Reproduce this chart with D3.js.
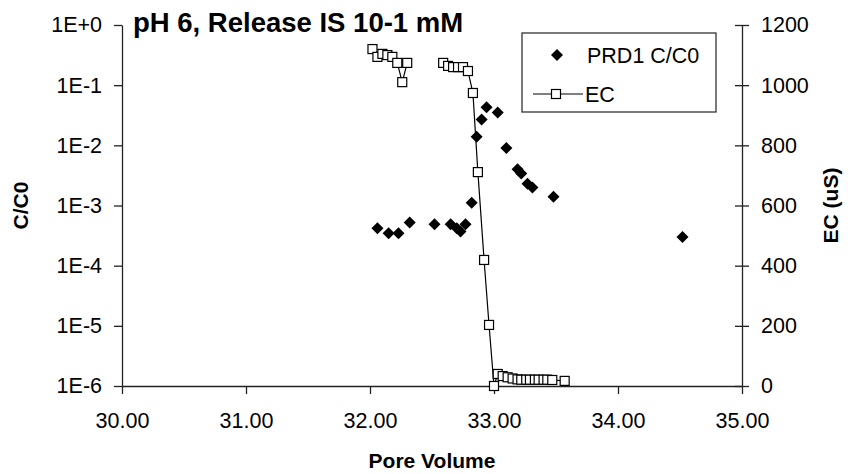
<!DOCTYPE html>
<html>
<head>
<meta charset="utf-8">
<script src="https://cdn.jsdelivr.net/npm/d3@7"></script>
<style>
  body { margin: 0; background: #fff; }
  text { font-family: "Liberation Sans", Arial, sans-serif; fill: #000; }
</style>
</head>
<body>
<svg id="chart" width="848" height="474"></svg>
<script>
// Axis ticks and labels
const poreVolumeTicks = [30, 31, 32, 33, 34, 35];
const poreVolumeTickLabels = ["30.00", "31.00", "32.00", "33.00", "34.00", "35.00"];
const ratioTicks = [1, 1e-1, 1e-2, 1e-3, 1e-4, 1e-5, 1e-6];
const ratioTickLabels = ["1E+0", "1E-1", "1E-2", "1E-3", "1E-4", "1E-5", "1E-6"];
const ecTicks = [0, 200, 400, 600, 800, 1000, 1200];

// PRD1 breakthrough, C/C0
const prdPoreVolume = [32.06, 32.15, 32.23, 32.32, 32.52, 32.65, 32.70, 32.73, 32.77, 32.82,
  32.86, 32.90, 32.94, 33.03, 33.10, 33.19, 33.22, 33.27, 33.31, 33.48, 34.52];
const prdRatio = [4.2e-4, 3.45e-4, 3.45e-4, 5.2e-4, 4.9e-4, 4.9e-4, 4.2e-4, 3.7e-4, 4.9e-4, 1.11e-3,
  1.39e-2, 2.7e-2, 4.3e-2, 3.5e-2, 9.0e-3, 4.0e-3, 3.4e-3, 2.3e-3, 2.0e-3, 1.4e-3, 3.0e-4];

// Effluent electrical conductivity (uS); null marks a break in the record
const ecPoreVolume = [32.02, 32.06, 32.10, 32.14, 32.18, 32.22, 32.26, 32.30, 32.45,
  32.59, 32.63, 32.67, 32.71, 32.75, 32.79, 32.83, 32.87, 32.92, 32.96, 33.00,
  33.03, 33.07, 33.11, 33.15, 33.19, 33.22, 33.26, 33.29, 33.33, 33.36, 33.40, 33.43, 33.47, 33.57];
const ecValues = [1120, 1094, 1104, 1100, 1094, 1074, 1010, 1074, null,
  1074, 1064, 1060, 1060, 1060, 1047, 974, 711, 419, 203, 0,
  40, 33, 29, 25, 22, 21, 21, 21, 21, 21, 21, 21, 20, 17];

const svg = d3.select("#chart");
const plotLeft = 122, plotRight = 742, plotTop = 25, plotBottom = 386;
const axisColor = "#222";
const tickFont = "21.5px";

const x = d3.scaleLinear().domain([30, 35]).range([plotLeft, plotRight]);
const yRatio = d3.scaleLog().domain([1e-6, 1]).range([plotBottom, plotTop]);
const yEC = d3.scaleLinear().domain([0, 1200]).range([plotBottom, plotTop]);

function styleAxis(g) {
  g.select(".domain").attr("stroke", axisColor).attr("stroke-width", 1.3);
  g.selectAll(".tick line").attr("stroke", axisColor).attr("stroke-width", 1.3);
  g.selectAll(".tick text").attr("font-size", tickFont).attr("fill", "#000")
    .attr("font-family", '"Liberation Sans", Arial, sans-serif');
}

// Bottom axis
svg.append("g")
  .attr("transform", `translate(0,${plotBottom})`)
  .call(d3.axisBottom(x).tickValues(poreVolumeTicks)
    .tickFormat((d, i) => poreVolumeTickLabels[i]).tickSizeInner(8).tickSizeOuter(0).tickPadding(19))
  .call(styleAxis);

// Left log axis
svg.append("g")
  .attr("transform", `translate(${plotLeft},0)`)
  .call(d3.axisLeft(yRatio).tickValues(ratioTicks)
    .tickFormat((d, i) => ratioTickLabels[i]).tickSizeInner(8).tickSizeOuter(0).tickPadding(12))
  .call(styleAxis);

// Right linear axis with ticks crossing the line
const rightAxis = svg.append("g")
  .attr("transform", `translate(${plotRight},0)`)
  .call(d3.axisRight(yEC).tickValues(ecTicks).tickFormat(d3.format("d"))
    .tickSizeInner(7).tickSizeOuter(0).tickPadding(12))
  .call(styleAxis);
rightAxis.selectAll(".tick line").attr("x1", -7).attr("x2", 7);

// EC line and square markers
const ecData = ecPoreVolume.map((v, i) => ({ pv: v, ec: ecValues[i] }));
svg.append("path")
  .datum(ecData)
  .attr("fill", "none")
  .attr("stroke", "#000")
  .attr("stroke-width", 1.2)
  .attr("d", d3.line().defined(d => d.ec !== null).x(d => x(d.pv)).y(d => yEC(d.ec)));

const sq = 9;
svg.append("g").selectAll("rect")
  .data(ecData.filter(d => d.ec !== null))
  .join("rect")
  .attr("x", d => x(d.pv) - sq / 2)
  .attr("y", d => yEC(d.ec) - sq / 2)
  .attr("width", sq).attr("height", sq)
  .attr("fill", "#fff").attr("stroke", "#000").attr("stroke-width", 1.2);

// PRD1 diamonds
const dia = 6;
const diamondPath = `M0,${-dia}L${dia},0L0,${dia}L${-dia},0Z`;
svg.append("g").selectAll("path")
  .data(prdPoreVolume.map((v, i) => ({ pv: v, r: prdRatio[i] })))
  .join("path")
  .attr("transform", d => `translate(${x(d.pv)},${yRatio(d.r)})`)
  .attr("d", diamondPath)
  .attr("fill", "#000");

// Title
svg.append("text")
  .attr("x", 133).attr("y", 32)
  .attr("font-size", "27.5px").attr("font-weight", "bold")
  .text("pH 6, Release IS 10-1 mM");

// Axis titles
svg.append("text")
  .attr("x", (plotLeft + plotRight) / 2).attr("y", 468)
  .attr("text-anchor", "middle").attr("font-size", "21px").attr("font-weight", "bold")
  .text("Pore Volume");
svg.append("text")
  .attr("transform", `translate(28,${(plotTop + plotBottom) / 2}) rotate(-90)`)
  .attr("text-anchor", "middle").attr("font-size", "21px").attr("font-weight", "bold")
  .text("C/C0");
svg.append("text")
  .attr("transform", `translate(838,${(plotTop + plotBottom) / 2}) rotate(-90)`)
  .attr("text-anchor", "middle").attr("font-size", "21px").attr("font-weight", "bold")
  .text("EC (uS)");

// Legend
const legend = svg.append("g");
legend.append("rect")
  .attr("x", 522).attr("y", 33).attr("width", 194).attr("height", 79)
  .attr("fill", "#fff").attr("stroke", "#333").attr("stroke-width", 1.3);
legend.append("path")
  .attr("transform", "translate(557,55)")
  .attr("d", diamondPath).attr("fill", "#000");
legend.append("text")
  .attr("x", 587).attr("y", 55).attr("dy", "0.35em").attr("font-size", "21.5px")
  .text("PRD1 C/C0");
legend.append("line")
  .attr("x1", 533).attr("x2", 583).attr("y1", 94).attr("y2", 94)
  .attr("stroke", "#000").attr("stroke-width", 1.2);
legend.append("rect")
  .attr("x", 556 - sq / 2).attr("y", 94 - sq / 2).attr("width", sq).attr("height", sq)
  .attr("fill", "#fff").attr("stroke", "#000").attr("stroke-width", 1.2);
legend.append("text")
  .attr("x", 585).attr("y", 94).attr("dy", "0.35em").attr("font-size", "21.5px")
  .text("EC");
</script>
</body>
</html>
